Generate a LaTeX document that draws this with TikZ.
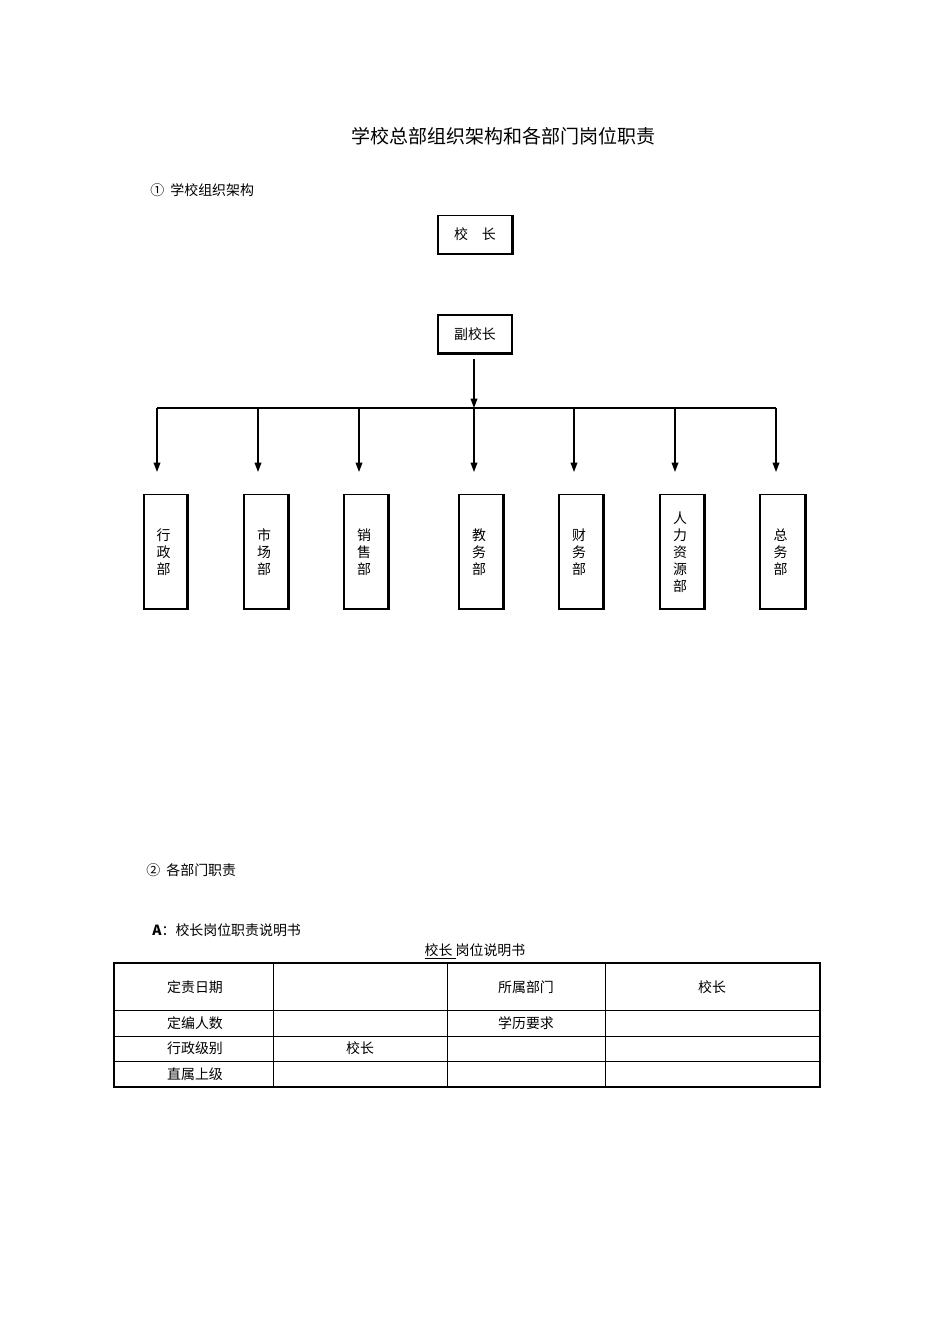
\documentclass[tikz,border=0pt]{standalone}
\usepackage{fontspec}
\setmainfont{Liberation Serif}
\newfontfamily\cjk{Noto Sans CJK SC}[Scale=0.95]
\usetikzlibrary{arrows.meta}
\begin{document}
\begin{tikzpicture}[x=0.75pt,y=-0.75pt,
  txt/.style={font=\cjk\fontsize{11}{13}\selectfont,inner sep=0pt},
  bx/.style={draw,line width=0.8pt,inner sep=0pt},
  sh/.style={line width=1.6pt},
  ar/.style={line width=1pt,-{Triangle[length=7pt,width=5pt]}},
  ln/.style={line width=1pt}]
\useasboundingbox (0,0) rectangle (950,1344);
\node[txt,font=\cjk\fontsize{15}{18}\selectfont] (title) at (503,136) {学校总部组织架构和各部门岗位职责};
\node[txt,anchor=west] (s1) at (150,190) {①\ \ 学校组织架构};
% top boxes
\node[bx,minimum width=55.5pt,minimum height=29pt] (p) at (475,234.5) {};
\node[txt] at (p) {校\hspace{1em}长};
\draw[sh] (p.south west) -- (p.south east) -- (p.north east);
\node[bx,minimum width=55.5pt,minimum height=28.5pt] (vp) at (475,334) {};
\node[txt] at (vp) {副校长};
\draw[sh] (vp.south west) -- (vp.south east);
\coordinate (j) at (474,408);
\draw[ar] (474,359) -- (j);
\coordinate (hl) at (157,408); \coordinate (hr) at (776,408);
\draw[ln] (hl) -- (hr);
\foreach \x/\w/\n/\t in {165.5/43/d1/{行\\政\\部},266/44/d2/{市\\场\\部},366/44/d3/{销\\售\\部},481/44/d4/{教\\务\\部},581/44/d5/{财\\务\\部},682/44/d6/{人\\力\\资\\源\\部},782.5/45/d7/{总\\务\\部}}{
  \node[bx,minimum width=\w*0.75pt,minimum height=85pt] (\n) at (\x,551.5) {};
  \draw[sh] (\n.south west) -- (\n.south east) -- (\n.north east);
  \node[txt,align=center,font=\cjk\fontsize{11}{12.8}\selectfont] at (\x-2,552) {\t};
}
\foreach \x in {157,258,359,474,574,675,776}{
  \draw[ar] (\x,408) -- (\x,472);
}
\node[txt,anchor=west] (s2) at (146,870) {②\ \ 各部门职责};
\node[txt,anchor=west] (a) at (152,930) {\textbf{A}：校长岗位职责说明书};
\node[txt] (tt) at (475,951) {\underline{校长\ }岗位说明书};
% table
\draw[line width=0.6pt] (273,963) -- (273,1087) (447,963) -- (447,1087) (605,963) -- (605,1087)
  (114,1010) -- (820,1010) (114,1036) -- (820,1036) (114,1061) -- (820,1061);
\draw[line width=1.4pt] (114,963) rectangle (820,1087);
\foreach \y/\a/\b/\c/\d in {987/定责日期//所属部门/校长,1023/定编人数//学历要求/,1048.5/行政级别/校长//,1074/直属上级///}{
  \node[txt] at (195,\y) {\a};
  \node[txt] at (360,\y) {\b};
  \node[txt] at (526,\y) {\c};
  \node[txt] at (712,\y) {\d};
}
\end{tikzpicture}
\end{document}
